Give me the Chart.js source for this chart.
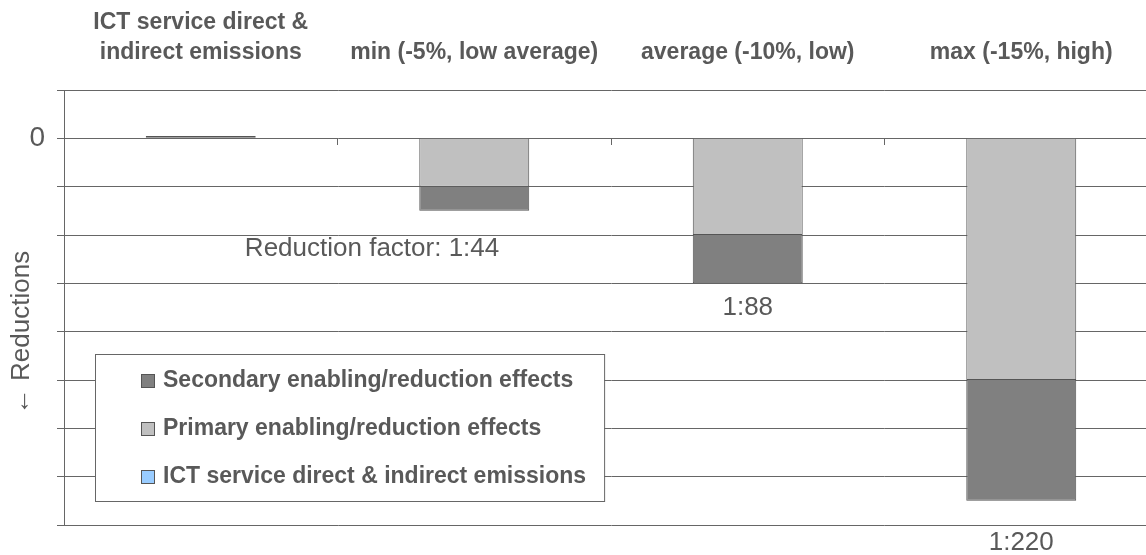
<!DOCTYPE html>
<html>
<head>
<meta charset="utf-8">
<script src="https://cdn.jsdelivr.net/npm/chart.js@4"></script>
<style>
  html, body { margin: 0; padding: 0; background: #fff; overflow: hidden; }
  #wrap { width: 1158px; height: 555px; }
</style>
</head>
<body>
<div id="wrap"><canvas id="chart"></canvas></div>
<script>
// data (units = one gridline step)
const categories = [['ICT service direct &', 'indirect emissions'], 'min (-5%, low average)', 'average (-10%, low)', 'max (-15%, high)'];
const ictEmissions = [0.05, null, null, null];
const primaryEffects = [null, -1, -2, -5];
const secondaryEffects = [null, -0.5, -1, -2.5];
const factorLabels = ['', 'Reduction factor: 1:44', '1:88', '1:220'];
const yRange = [-8, 1];
const yTitle = '\u2190 Reductions';

const FONT = "'Liberation Sans', Arial, sans-serif";
const TEXT = '#595959';
const LINE = '#666666';

// legend box + reduction factor texts + axis title
const extras = {
  id: 'extras',
  afterDraw(chart) {
    const ctx = chart.ctx;
    const area = chart.chartArea;
    ctx.save();

    // y axis title
    ctx.translate(22, (area.top + area.bottom) / 2 + 25);
    ctx.rotate(-Math.PI / 2);
    ctx.font = '26px ' + FONT;
    ctx.fillStyle = TEXT;
    ctx.textAlign = 'center';
    ctx.textBaseline = 'middle';
    ctx.fillText(yTitle, 0, 0);
    ctx.setTransform(1, 0, 0, 1, 0, 0);

    // reduction factor labels under each stack
    const meta = chart.getDatasetMeta(2);
    const shifts = [[0, 0, 'center'], [25, 38, 'right'], [0, 24, 'center'], [0, 42, 'center']];
    ctx.font = '26px ' + FONT;
    ctx.textBaseline = 'middle';
    factorLabels.forEach((txt, i) => {
      if (!txt) return;
      const bar = meta.data[i];
      ctx.textAlign = shifts[i][2];
      ctx.fillText(txt, bar.x + shifts[i][0], bar.y + shifts[i][1]);
    });

    // legend inside the plot
    const items = chart.data.datasets.slice().reverse();
    const bx = 95, by = 354, rowH = 48;
    ctx.font = 'bold 23px ' + FONT;
    const maxW = Math.max(...items.map(d => ctx.measureText(d.label).width));
    const bw = 68 + maxW + 18, bh = 147;
    ctx.fillStyle = '#fff';
    ctx.fillRect(bx, by, bw, bh);
    ctx.strokeStyle = LINE;
    ctx.lineWidth = 1;
    ctx.strokeRect(bx + 0.5, by + 0.5, bw, bh);
    items.forEach((d, i) => {
      const cy = by + 27 + i * rowH;
      ctx.fillStyle = d.backgroundColor;
      ctx.fillRect(bx + 46, cy - 7, 14, 14);
      ctx.strokeStyle = '#555';
      ctx.strokeRect(bx + 46.5, cy - 6.5, 13, 13);
      ctx.fillStyle = TEXT;
      ctx.textAlign = 'left';
      ctx.fillText(d.label, bx + 68, cy);
    });
    ctx.restore();
  }
};

new Chart(document.getElementById('chart'), {
  type: 'bar',
  data: {
    labels: categories,
    datasets: [
      { label: 'ICT service direct & indirect emissions', data: ictEmissions, backgroundColor: '#99CCFF', borderColor: '#555', borderWidth: 1, borderSkipped: false },
      { label: 'Primary enabling/reduction effects', data: primaryEffects, backgroundColor: '#C0C0C0', borderColor: '#555', borderWidth: 1 },
      { label: 'Secondary enabling/reduction effects', data: secondaryEffects, backgroundColor: '#808080', borderColor: '#555', borderWidth: 1 }
    ]
  },
  options: {
    responsive: true,
    maintainAspectRatio: false,
    animation: false,
    layout: { padding: { top: 0, right: 0, bottom: 30, left: 0 } },
    datasets: { bar: { barPercentage: 0.402, categoryPercentage: 1 } },
    plugins: { legend: { display: false }, tooltip: { enabled: false } },
    scales: {
      x: {
        position: 'top',
        stacked: true,
        offset: true,
        grid: { display: false, drawTicks: false, tickLength: 0 },
        border: { display: false },
        ticks: {
          color: TEXT,
          padding: 22,
          maxRotation: 0,
          autoSkip: false,
          font: { family: FONT, size: 23, weight: 'bold', lineHeight: 1.3 }
        },
        afterFit(scale) { scale.height = 90; }
      },
      x2: {
        axis: 'x',
        type: 'category',
        position: { y: 0 },
        offset: true,
        grid: { offset: true, drawOnChartArea: false, drawTicks: true, tickLength: 7, color: LINE },
        border: { display: false },
        ticks: { display: false }
      },
      y: {
        stacked: true,
        min: yRange[0],
        max: yRange[1],
        grid: { color: LINE, tickLength: 7 },
        border: { color: LINE },
        ticks: {
          stepSize: 1,
          padding: 12,
          color: TEXT,
          font: { family: FONT, size: 28 },
          callback: v => (v === 0 ? '0' : '')
        },
        afterFit(scale) { scale.width = 64; }
      }
    }
  },
  plugins: [extras]
});
</script>
</body>
</html>
